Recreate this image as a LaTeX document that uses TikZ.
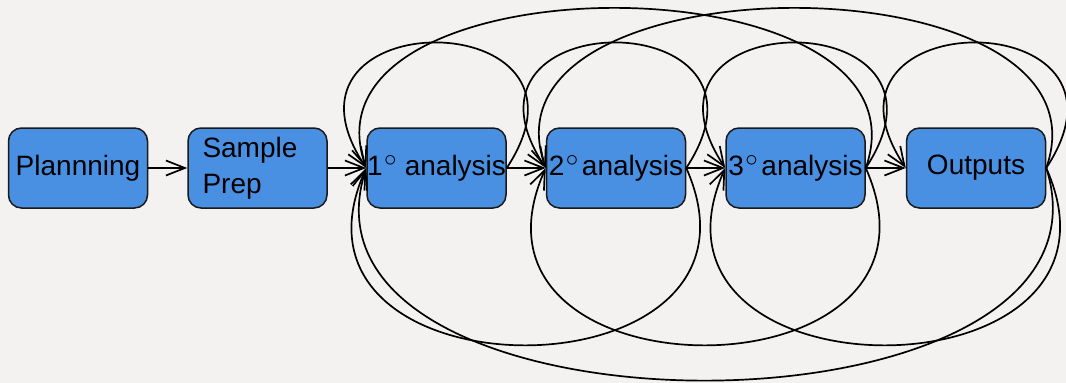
\documentclass[tikz,border=0pt]{standalone}
\usepackage{fontspec}
\setmainfont{Liberation Sans}
\usetikzlibrary{arrows.meta}
\definecolor{bg}{HTML}{F3F2F0}
\definecolor{boxblue}{HTML}{4A90E2}
\newcommand{\mydeg}{\hspace{1.5pt}$^{\textstyle\circ}$}
\begin{document}
\begin{tikzpicture}[x=1pt,y=-1pt,
  box/.style={draw=black!90, line width=1.5pt, fill=boxblue, rounded corners=13pt,
    minimum width=139pt, minimum height=80pt, inner sep=0pt,
    font=\fontsize{28}{37}\selectfont, text=black},
  edge/.style={line width=1.7pt, -{Straight Barb[length=19pt,width=15pt]}}
]
\fill[bg] (0,0) rectangle (1066,383);
\useasboundingbox (0,0) rectangle (1066,383);
\node[box] (plan) at (78,168) {Plannning};
\node[box, text width=110pt, align=left] (prep) at (257.5,168) {Sample\\[-1pt]Prep};
\node[box] (a1) at (436.5,168) {1\mydeg\ analysis};
\node[box] (a2) at (616,168) {2\mydeg\hspace{3pt}analysis};
\node[box] (a3) at (795.5,168) {3\mydeg\hspace{3pt}analysis};
\node[box] (out) at (976,168) {Outputs};
% straight edges
\draw[edge] (plan.east) -- (prep.west |- plan.east);
\draw[edge] (prep.east |- a1.west) -- (a1.west);
\draw[edge] (a1.east) -- (a2.west);
\draw[edge] (a2.east) -- (a3.west);
\draw[edge] (a3.east) -- (out.west);
% self loops (above)
\draw[edge] (a1.east) .. controls +(110,-167) and +(-110,-167) .. (a1.west);
\draw[edge] (a2.east) .. controls +(110,-167) and +(-110,-167) .. (a2.west);
\draw[edge] (a3.east) .. controls +(110,-167) and +(-110,-167) .. (a3.west);
\draw[edge] (out.east) .. controls +(110,-167) and +(-110,-167) .. (out.west);
% long loops above
\draw[edge] (a3.east) .. controls +(75,-213) and +(-75,-213) .. (a1.west);
\draw[edge] (out.east) .. controls +(75,-213) and +(-75,-213) .. (a2.west);
% loops below
\draw[edge] (a2.east) .. controls +(105,236) and +(-105,236) .. (a1.west);
\draw[edge] (a3.east) .. controls +(105,236) and +(-105,236) .. (a2.west);
\draw[edge] (out.east) .. controls +(105,236) and +(-105,236) .. (a3.west);
\draw[edge] (out.east) .. controls +(90,283) and +(-90,283) .. (a1.west);
\end{tikzpicture}
\end{document}
